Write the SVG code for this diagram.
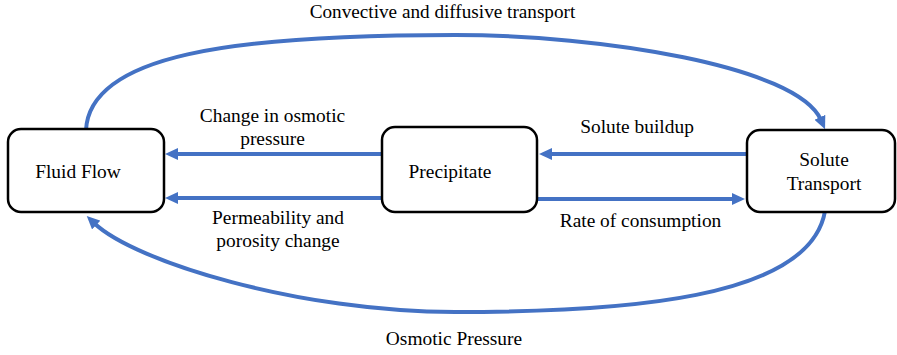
<svg xmlns="http://www.w3.org/2000/svg" width="897" height="355" viewBox="0 0 897 355">
<style>
  .box{fill:#fff;stroke:#000;stroke-width:2.5}
  .lbl{font-family:'Liberation Serif','Times New Roman',serif;font-size:19.4px;fill:#000;text-anchor:middle}
  .con{fill:none;stroke:#4472C4;stroke-width:4}
</style>
<defs>
  <marker id="ah" markerUnits="userSpaceOnUse" markerWidth="14" markerHeight="12" refX="3" refY="6" orient="auto">
    <path d="M0,0 L13,6 L0,12 z" fill="#4472C4"/>
  </marker>
</defs>
<rect width="897" height="355" fill="#fff"/>
<g id="connectors">
  <path class="con" d="M86,130 C90,55 230,35 455,35 C600,35 797,66 821,120" marker-end="url(#ah)"/>
  <path class="con" d="M825,211 C810,300 620,312 455,312 C300,312 135,262 94,223" marker-end="url(#ah)"/>
  <path class="con" d="M381,154 L175,154" marker-end="url(#ah)"/>
  <path class="con" d="M381,198 L175,198" marker-end="url(#ah)"/>
  <path class="con" d="M748,154 L549,154" marker-end="url(#ah)"/>
  <path class="con" d="M536,199 L735,199" marker-end="url(#ah)"/>
</g>
<g id="labels">
  <text class="lbl" x="442.5" y="17.5" style="font-size:19.2px">Convective and diffusive transport</text>
  <text class="lbl" x="454" y="345">Osmotic Pressure</text>
  <text class="lbl" x="272.5" y="122">Change in osmotic</text>
  <text class="lbl" x="272.5" y="145">pressure</text>
  <text class="lbl" x="278" y="224">Permeability and</text>
  <text class="lbl" x="278" y="247">porosity change</text>
  <text class="lbl" x="637" y="133">Solute buildup</text>
  <text class="lbl" x="640.5" y="227">Rate of consumption</text>
</g>
<g id="fluid-flow">
  <rect class="box" x="8" y="129" width="156" height="83" rx="13"/>
  <text class="lbl" x="78" y="178">Fluid Flow</text>
</g>
<g id="precipitate">
  <rect class="box" x="382" y="127" width="155" height="85" rx="13"/>
  <text class="lbl" x="450" y="178">Precipitate</text>
</g>
<g id="solute-transport">
  <rect class="box" x="747" y="130" width="148" height="82" rx="13"/>
  <text class="lbl" x="824" y="166">Solute</text>
  <text class="lbl" x="824" y="190">Transport</text>
</g>
</svg>
